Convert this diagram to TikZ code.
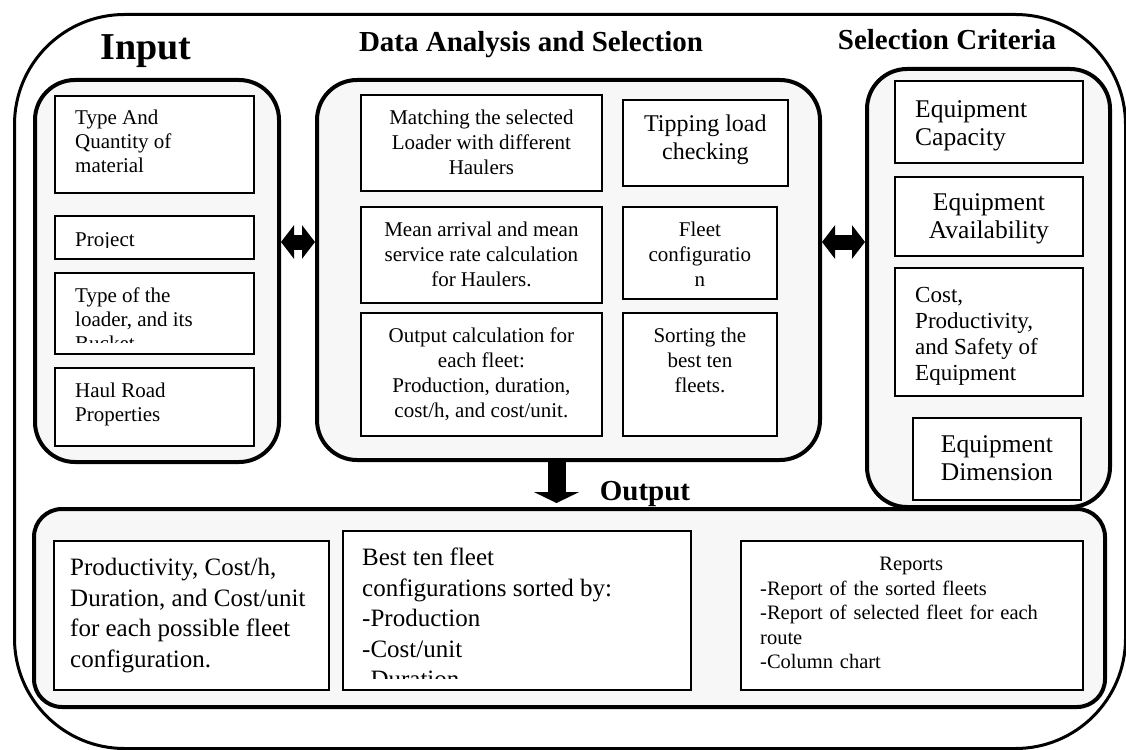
\documentclass[tikz,border=0pt]{standalone}
\usepackage{fontspec}
\setmainfont{Liberation Serif}
\usetikzlibrary{arrows.meta}

\definecolor{panelgray}{HTML}{F7F7F7}

\tikzset{
  frame/.style={draw, line width=3pt, rounded corners=110pt, anchor=north west, inner sep=0pt},
  panel/.style={draw, line width=4pt, fill=panelgray, rounded corners=40pt, anchor=north west, inner sep=0pt},
  box/.style={draw, line width=1.8pt, fill=white, anchor=north west, inner sep=0pt},
  ttl/.style={font=\bfseries\fontsize{29}{33}\selectfont, anchor=base, inner sep=0pt},
  intxt/.style={font=\fontsize{21}{24}\selectfont, align=left, inner sep=0pt, anchor=north west},
  midtxt/.style={font=\fontsize{21}{25}\selectfont, align=center, inner sep=0pt, anchor=north},
  tiptxt/.style={font=\fontsize{24}{28}\selectfont, align=center, inner sep=0pt, anchor=north},
  crittxt/.style={font=\fontsize{25.5}{28.5}\selectfont, inner sep=0pt},
  costtxt/.style={font=\fontsize{23}{26}\selectfont, align=left, inner sep=0pt, anchor=north west},
  outtxt/.style={font=\fontsize{25}{30.5}\selectfont, align=left, inner sep=0pt, anchor=north west},
  reptxt/.style={font=\fontsize{20.5}{24.5}\selectfont, align=left, text width=302pt, inner sep=0pt, anchor=north west},
  dblarrow/.style={line width=15pt, {Triangle[length=13pt,width=33pt]}-{Triangle[length=13pt,width=33pt]}},
  downarrow/.style={line width=18pt, -{Triangle[length=11pt,width=45pt]}, shorten >=4pt}
}

% box with left-aligned text, clipped near the bottom edge
\newcommand{\lbox}[8]{%
  \node[box, minimum width=#4pt, minimum height=#5pt] (#1) at (#2,#3) {};
  \begin{scope}
    \clip (#1.north west) rectangle ([yshift=12.5pt]#1.south east);
    \node[#7] (#1-txt) at ([#6]#1.north west) {#8};
  \end{scope}}
% same, text centred
\newcommand{\cbox}[8]{%
  \node[box, minimum width=#4pt, minimum height=#5pt] (#1) at (#2,#3) {};
  \begin{scope}
    \clip (#1.north west) rectangle ([yshift=12.5pt]#1.south east);
    \node[#7] (#1-txt) at ([#6]#1.north) {#8};
  \end{scope}}

\begin{document}
\begin{tikzpicture}[x=1pt,y=-1pt]
\useasboundingbox (0,0) rectangle (1126,749);

\node[frame, minimum width=1111pt, minimum height=734pt] (frame) at (13,13) {};

% panels
\node[panel, minimum width=244pt, minimum height=382pt] (inp) at (33,78) {};
\node[panel, minimum width=503pt, minimum height=380pt] (ana) at (315,78) {};
\node[panel, minimum width=243pt, minimum height=438pt] (crit) at (865,67) {};
\node[panel, rounded corners=28pt, minimum width=1071pt, minimum height=198pt] (outp) at (32,507) {};

% titles
\node[ttl, font=\bfseries\fontsize{38}{42}\selectfont] (ttl-inp) at (146,60) {Input};
\node[ttl] (ttl-ana) at (531,52) {Data Analysis and Selection};
\node[ttl] (ttl-crit) at (947,50) {Selection Criteria};
\node[ttl] (ttl-out) at (645,500) {Output};

% input
\lbox{in1}{54}{95}{199}{97}{xshift=21pt,yshift=-15pt}{intxt}{Type And\\Quantity of\\material}
\lbox{in2}{54}{215}{199}{43}{xshift=21pt,yshift=-17pt}{intxt}{Project}
\lbox{in3}{54}{272}{199}{81}{xshift=21pt,yshift=-16pt}{intxt}{Type of the\\loader, and its\\Bucket}
\lbox{in4}{54}{367}{199}{78}{xshift=21pt,yshift=-16pt}{intxt}{Haul Road\\Properties}

% data analysis
\cbox{an1}{360}{94}{241}{96}{yshift=-16pt}{midtxt}{Matching the selected\\Loader with different\\Haulers}
\cbox{an2}{622}{99}{165}{86}{yshift=-16pt}{tiptxt}{Tipping load\\checking}
\cbox{an3}{360}{206}{241}{96}{yshift=-16pt}{midtxt}{Mean arrival and mean\\service rate calculation\\for Haulers.}
\cbox{an4}{622}{206}{154}{92}{yshift=-16pt}{midtxt}{Fleet\\configuratio\\n}
\cbox{an5}{360}{312}{241}{123}{yshift=-16pt}{midtxt}{Output calculation for\\each fleet:\\Production, duration,\\cost/h, and cost/unit.}
\cbox{an6}{622}{312}{154}{123}{yshift=-16pt}{midtxt}{Sorting the\\best ten\\fleets.}

% criteria
\lbox{cr1}{894}{80}{188}{82}{xshift=21pt,yshift=-20pt}{crittxt, align=left, anchor=north west}{Equipment\\Capacity}
\cbox{cr2}{894}{176}{188}{79}{yshift=-17pt}{crittxt, align=center, anchor=north}{Equipment\\Availability}
\lbox{cr3}{894}{267}{188}{128}{xshift=21pt,yshift=-20pt}{costtxt}{Cost,\\Productivity,\\and Safety of\\Equipment}
\cbox{cr4}{912}{417}{168}{82}{yshift=-18pt}{crittxt, align=center, anchor=north}{Equipment\\Dimension}

% output
\lbox{ou1}{53}{540}{275}{149}{xshift=17pt,yshift=-18pt}{outtxt}{Productivity, Cost/h,\\Duration, and Cost/unit\\for each possible fleet\\configuration.}
\lbox{ou2}{342}{530}{348}{159}{xshift=20pt,yshift=-18pt}{outtxt}{Best ten fleet\\configurations sorted by:\\-Production\\-Cost/unit\\-Duration}
\lbox{ou3}{740}{540}{342}{149}{xshift=20pt,yshift=-17pt}{reptxt}{\makebox[\linewidth]{Reports}\\-Report of the sorted fleets\\-Report of selected fleet for each\\route\\-Column chart}

% arrows
\draw[dblarrow] ([yshift=28pt]ana.west) coordinate (la) -- (la -| inp.east);
\draw[dblarrow] ([yshift=28pt]ana.east) coordinate (ra) -- (ra -| crit.west);
\draw[downarrow] ([xshift=-12pt]ana.south) coordinate (da) -- (da |- outp.north);
\end{tikzpicture}
\end{document}
